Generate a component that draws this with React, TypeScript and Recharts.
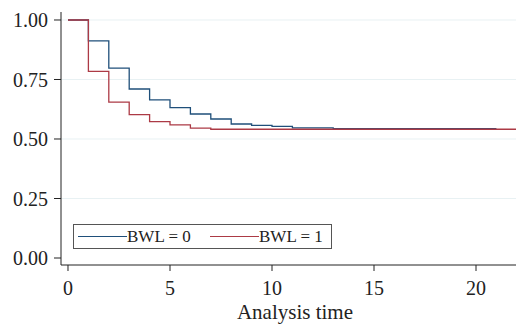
import React from 'react';
import { LineChart, Line, XAxis, YAxis, ReferenceLine } from 'recharts';

const times0 = [0, 1, 2, 3, 4, 5, 6, 7, 8, 9, 10, 11, 13, 21];
const surv0 = [1.0, 0.912, 0.798, 0.71, 0.664, 0.632, 0.605, 0.584, 0.563, 0.557, 0.553, 0.547, 0.544, 0.544];
const times1 = [0, 1, 2, 3, 4, 5, 6, 7, 22];
const surv1 = [1.0, 0.784, 0.655, 0.602, 0.573, 0.559, 0.546, 0.541, 0.541];
const xTicks = [0, 5, 10, 15, 20];
const yTicks = [0, 0.25, 0.5, 0.75, 1];
const gridValues = [0.25, 0.5, 0.75, 1];
const seriesNames = ['BWL = 0', 'BWL = 1'];
const colors = ['#1f4f7a', '#ac3a45'];

const data0 = times0.map((t, i) => ({ t, s: surv0[i] }));
const data1 = times1.map((t, i) => ({ t, s: surv1[i] }));

const FONT = '"Liberation Serif", "DejaVu Serif", serif';

export default function App() {
  return (
    <div style={{ position: 'absolute', left: 0, top: 0, width: 516, height: 324, fontFamily: FONT, background: '#fff' }}>
      <LineChart width={516} height={324} data={data0} margin={{ top: 12, right: 0, bottom: 0, left: 0 }}>
        {gridValues.map((v) => (
          <ReferenceLine key={v} y={v} stroke="#e8f1f3" strokeWidth={1} />
        ))}
        <XAxis
          type="number"
          dataKey="t"
          domain={[-0.343, 21.96]}
          allowDataOverflow
          ticks={xTicks}
          height={59}
          tickSize={6}
          tickMargin={10}
          stroke="#222"
          tick={{ fill: '#222', fontSize: 20, fontFamily: FONT }}
          label={{ value: 'Analysis time', position: 'insideBottom', offset: 5, dx: 6.5, fill: '#222', fontSize: 21, fontFamily: FONT }}
        />
        <YAxis
          type="number"
          domain={[-0.0294, 1.0336]}
          allowDataOverflow
          ticks={yTicks}
          width={61}
          tickSize={7}
          tickMargin={6}
          stroke="#222"
          tickFormatter={(v: number) => v.toFixed(2)}
          tick={{ fill: '#222', fontSize: 20, fontFamily: FONT }}
        />
        <Line data={data0} dataKey="s" type="stepAfter" stroke={colors[0]} strokeWidth={1.3} dot={false} activeDot={false} isAnimationActive={false} name={seriesNames[0]} />
        <Line data={data1} dataKey="s" type="stepAfter" stroke={colors[1]} strokeWidth={1.3} dot={false} activeDot={false} isAnimationActive={false} name={seriesNames[1]} />
      </LineChart>
      <div
        style={{
          position: 'absolute',
          left: 73,
          top: 224,
          width: 259,
          height: 25,
          border: '1px solid #555',
          boxSizing: 'border-box',
          background: '#fff',
          fontSize: 17,
          color: '#222',
        }}
      >
        {seriesNames.map((name, i) => (
          <div
            key={name}
            style={{ position: 'absolute', left: i === 0 ? 4 : 136, top: 0, height: 23, display: 'flex', alignItems: 'center', whiteSpace: 'nowrap' }}
          >
            <span style={{ display: 'inline-block', width: 49, height: 0, borderTop: `1.3px solid ${colors[i]}` }} />
            <span style={{ lineHeight: '23px' }}>{name}</span>
          </div>
        ))}
      </div>
    </div>
  );
}
